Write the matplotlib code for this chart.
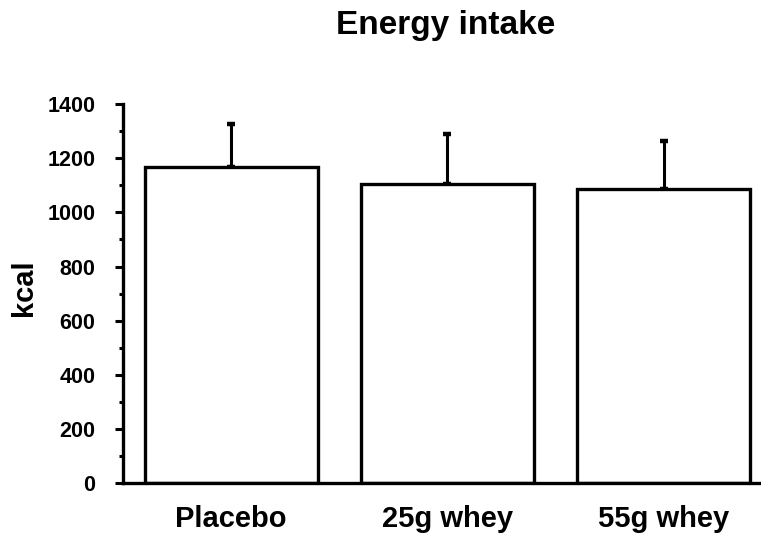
import matplotlib
matplotlib.use("Agg")
import matplotlib.pyplot as plt
import matplotlib.ticker as ticker

groups = ["Placebo", "25g whey", "55g whey"]
intake = [1167, 1104, 1086]
sd_up = [159, 185, 177]

plt.rcParams["font.family"] = ["Liberation Sans", "DejaVu Sans"]
plt.rcParams["font.weight"] = "bold"

fig = plt.figure(figsize=(7.61, 5.34), dpi=100)
ax = fig.add_axes([0.1616, 0.0955, 0.8384, 0.7095])

x = range(len(groups))
ax.bar(x, intake, width=0.8, color="white", edgecolor="black", linewidth=2.4, zorder=2)
ax.errorbar(x, intake, yerr=[[0] * len(sd_up), sd_up], fmt="none", ecolor="black",
	elinewidth=2.2, capsize=2.6, capthick=3.2, zorder=1)

ax.set_xlim(-0.5, 2.45)
ax.set_ylim(0, 1400)
ax.set_xticks(list(x))
ax.set_xticklabels(groups, fontsize=21, fontweight="bold")
ax.yaxis.set_major_locator(ticker.MultipleLocator(200))
ax.yaxis.set_minor_locator(ticker.MultipleLocator(100))
ax.tick_params(axis="y", which="major", length=6, width=2.2, labelsize=15.5, pad=14)
ax.tick_params(axis="y", which="minor", length=3, width=2.2)
ax.tick_params(axis="x", length=0, pad=16)
for lbl in ax.get_yticklabels():
	lbl.set_fontweight("bold")

ax.spines["top"].set_visible(False)
ax.spines["right"].set_visible(False)
ax.spines["left"].set_linewidth(2.4)
ax.spines["bottom"].set_linewidth(2.4)
ax.spines["left"].set_bounds(0, 1400)

fig.text(0.031, 0.462, "kcal", fontsize=21, fontweight="bold", rotation=90, ha="center", va="center")
fig.text(0.585, 0.953, "Energy intake", fontsize=24, fontweight="bold", ha="center", va="center")

fig.savefig("out.png", dpi=100)
